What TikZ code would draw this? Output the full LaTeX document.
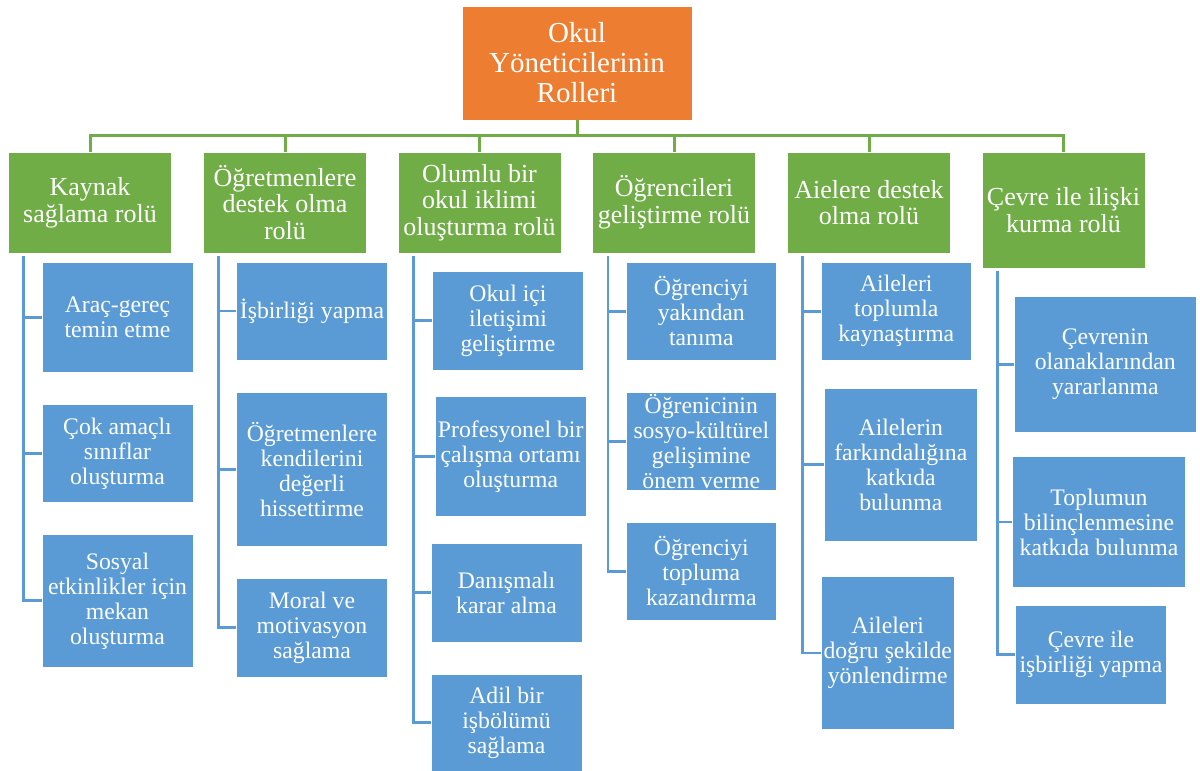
\documentclass[tikz,border=0pt]{standalone}
\usepackage{fontspec}
\setmainfont{Liberation Serif}
\definecolor{orng}{HTML}{ED7D31}
\definecolor{grn}{HTML}{70AD47}
\definecolor{blu}{HTML}{5B9BD5}
\begin{document}
\begin{tikzpicture}[x=1pt,y=-1pt,
  rootbox/.style={fill=orng,draw=white,line width=0.8pt,text=white,align=center,inner sep=1pt,
    font=\fontsize{29}{30}\selectfont},
  lvlone/.style={fill=grn,draw=white,line width=0.8pt,text=white,align=center,inner sep=1pt,
    minimum width=163pt,font=\fontsize{26}{26.7}\selectfont},
  leaf/.style={fill=blu,draw=white,line width=0.8pt,text=white,align=center,inner sep=1pt,
    font=\fontsize{23.7}{25}\selectfont},
  gline/.style={draw=grn,line width=3pt},
  bline/.style={draw=blu,line width=2.8pt},
]
\useasboundingbox (0,0) rectangle (1200,771);
% root
\node[rootbox,minimum width=230pt,minimum height=114pt] (root) at (577,63) {Okul\\Yöneticilerinin\\Rolleri};
% level one
\node[lvlone,minimum height=101pt] (K) at (90,202.5) {Kaynak\\sağlama rolü};
\node[lvlone,minimum height=101pt] (O) at (285,202.5) {Öğretmenlere\\destek olma\\rolü};
\node[lvlone,minimum height=101pt] (L) at (479.5,202.5) {Olumlu bir\\okul iklimi\\oluşturma rolü};
\node[lvlone,minimum height=101pt] (G) at (674,202.5) {Öğrencileri\\geliştirme rolü};
\node[lvlone,minimum height=101pt] (A) at (869,202.5) {Aielere destek\\olma rolü};
\node[lvlone,minimum height=116pt] (C) at (1063.5,210) {Çevre ile ilişki\\kurma rolü};
% leaves K
\node[leaf,minimum width=151pt,minimum height=110.7pt] (k1) at (117.5,317.3) {Araç-gereç\\temin etme};
\node[leaf,minimum width=151pt,minimum height=98.7pt] (k2) at (117.5,453.3) {Çok amaçlı\\sınıflar\\oluşturma};
\node[leaf,minimum width=151pt,minimum height=133.7pt] (k3) at (117.5,600.8) {Sosyal\\etkinlikler için\\mekan\\oluşturma};
% leaves O
\node[leaf,minimum width=150.6pt,minimum height=98pt] (o1) at (312,311) {İşbirliği yapma};
\node[leaf,minimum width=150.6pt,minimum height=154.7pt] (o2) at (312,469.3) {Öğretmenlere\\kendilerini\\değerli\\hissettirme};
\node[leaf,minimum width=150.6pt,minimum height=99pt] (o3) at (312,627.5) {Moral ve\\motivasyon\\sağlama};
% leaves L
\node[leaf,minimum width=150.6pt,minimum height=99pt] (l1) at (508,320.5) {Okul içi\\iletişimi\\geliştirme};
\node[leaf,minimum width=150.7pt,minimum height=120.7pt] (l2) at (510.7,456.3) {Profesyonel bir\\çalışma ortamı\\oluşturma};
\node[leaf,minimum width=151pt,minimum height=99pt] (l3) at (506.5,592.8) {Danışmalı\\karar alma};
\node[leaf,minimum width=151pt,minimum height=97pt] (l4) at (506.5,722.5) {Adil bir\\işbölümü\\sağlama};
% leaves G
\node[leaf,minimum width=150.7pt,minimum height=98.7pt] (g1) at (701.3,311.3) {Öğrenciyi\\yakından\\tanıma};
\node[leaf,minimum width=150.7pt,minimum height=98.7pt] (g2) at (701.3,441.3) {Öğrenicinin\\sosyo-kültürel\\gelişimine\\önem verme};
\node[leaf,minimum width=150.7pt,minimum height=98.7pt] (g3) at (701.3,571.3) {Öğrenciyi\\topluma\\kazandırma};
% leaves A
\node[leaf,minimum width=150.7pt,minimum height=98.7pt] (a1) at (896.3,311.3) {Aileleri\\toplumla\\kaynaştırma};
\node[leaf,minimum width=152.3pt,minimum height=152.7pt] (a2) at (900.8,464.7) {Ailelerin\\farkındalığına\\katkıda\\bulunma};
\node[leaf,minimum width=133.3pt,minimum height=152.6pt] (a3) at (887.7,653) {Aileleri\\doğru şekilde\\yönlendirme};
% leaves C
\node[leaf,minimum width=182.7pt,minimum height=135.3pt] (c1) at (1105.3,364.3) {Çevrenin\\olanaklarından\\yararlanma};
\node[leaf,minimum width=172.6pt,minimum height=131.4pt] (c2) at (1099,522) {Toplumun\\bilinçlenmesine\\katkıda bulunma};
\node[leaf,minimum width=150.6pt,minimum height=98.3pt] (c3) at (1091,654.8) {Çevre ile\\işbirliği yapma};
% green connectors
\foreach \n in {K,O,L,G,A,C}
  \draw[gline] (root.south) -- ++(0,15.5) -| (\n.north);
% spine tops
\coordinate (Ks) at (23.3,256);
\coordinate (Os) at (218.3,256);
\coordinate (Ls) at (413.3,256);
\coordinate (Gs) at (608,256);
\coordinate (As) at (802.3,256);
\coordinate (Cs) at (997.3,271);
% blue connectors
\foreach \s/\c in {Ks/k1,Ks/k2,Ks/k3,Os/o1,Os/o2,Os/o3,Ls/l1,Ls/l2,Ls/l3,Ls/l4,Gs/g1,Gs/g2,Gs/g3,As/a1,As/a2,As/a3,Cs/c1,Cs/c2,Cs/c3}
  \draw[bline] (\s) |- (\c.west);
\end{tikzpicture}
\end{document}
